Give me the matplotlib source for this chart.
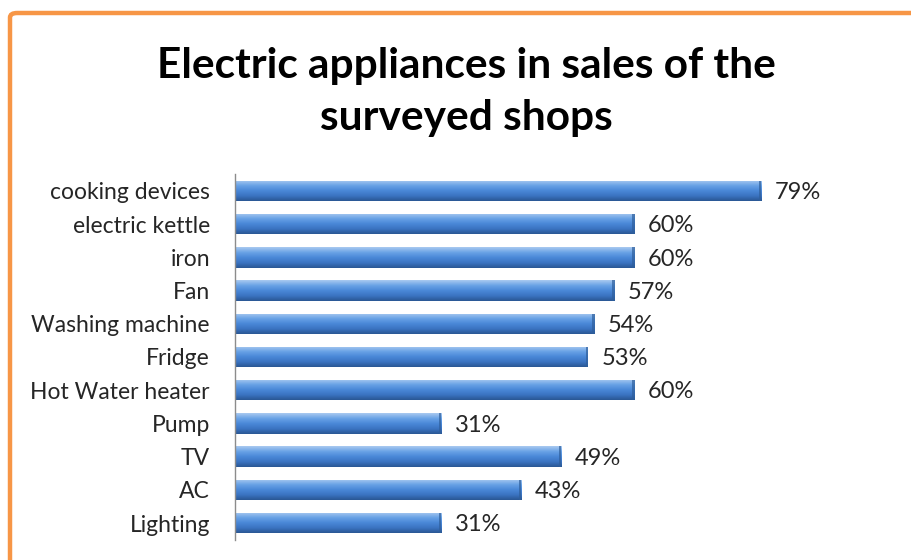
import numpy as np
import matplotlib.pyplot as plt
from matplotlib.colors import LinearSegmentedColormap
from matplotlib.patches import FancyBboxPatch, Rectangle

# categories and shares (%) from the shop survey
appliances = ['cooking devices', 'electric kettle', 'iron', 'Fan', 'Washing machine',
              'Fridge', 'Hot Water heater', 'Pump', 'TV', 'AC', 'Lighting']
shares = [79, 60, 60, 57, 54, 53, 60, 31, 49, 43, 31]

plt.rcParams['font.family'] = ['Lato', 'DejaVu Sans']
text_col = '#262626'

fig = plt.figure(figsize=(9.12, 5.6), dpi=100)

# orange chart frame (runs off the right and bottom edges)
frame = FancyBboxPatch((10 / 912, -0.2), 1.2, 1.2 - 13 / 560,
                       boxstyle='round,pad=0,rounding_size=0.008',
                       transform=fig.transFigure, fill=False,
                       edgecolor='#f79646', linewidth=3.2)
fig.patches.append(frame)

fig.text(0.511, 0.835, 'Electric appliances in sales of the\nsurveyed shops',
         ha='center', va='center', fontsize=30.5, fontweight='bold',
         linespacing=1.45, color='black')

ax = fig.add_axes([235 / 912, 20.4 / 560, 666 / 912, 365.2 / 560])
ax.set_xlim(0, 100)
ax.set_ylim(len(appliances) - 0.5, -0.5)

# vertical gradient for the bevelled bar look
bar_cmap = LinearSegmentedColormap.from_list(
    'bar', ['#a9c9f0', '#6aa3e6', '#4a88d8', '#3b74c2', '#2a5794'])
grad = np.linspace(0, 1, 64).reshape(-1, 1)
bar_h = 0.62

for i, v in enumerate(shares):
    top = i - bar_h / 2
    bottom = i + bar_h / 2
    im = ax.imshow(grad, cmap=bar_cmap, aspect='auto', interpolation='bilinear',
                   extent=[0, v, bottom, top], zorder=2)
    clip = Rectangle((0, top), v, bar_h, transform=ax.transData)
    im.set_clip_path(clip)
    # darker bevel at the bar end
    ax.add_patch(Rectangle((v - 0.35, top), 0.35, bar_h, facecolor='#2f5f9c',
                           edgecolor='none', alpha=0.7, zorder=3))
    ax.text(v + 2.0, i + 0.05, f'{v}%', va='center', ha='left',
            fontsize=17, color=text_col)

ax.set_yticks(range(len(appliances)))
ax.set_yticklabels(appliances, fontsize=16.5, color=text_col)
ax.tick_params(axis='y', length=0, pad=18)
ax.set_xticks([])
for side in ['top', 'right', 'bottom']:
    ax.spines[side].set_visible(False)
ax.spines['left'].set_color('#8c8c8c')
ax.spines['left'].set_linewidth(1)

fig.savefig('out.png', dpi=100)
